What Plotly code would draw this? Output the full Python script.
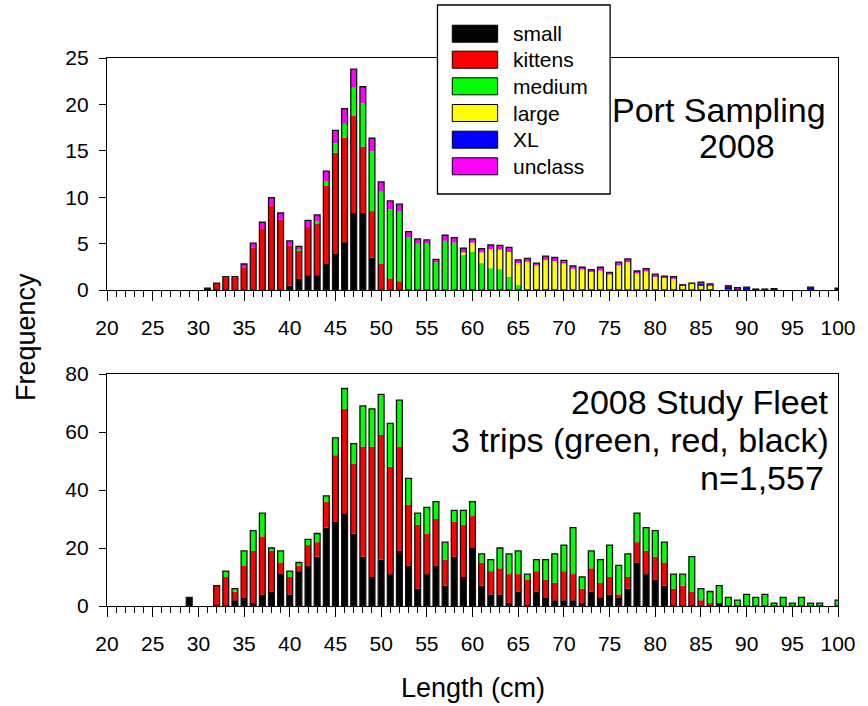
import plotly.graph_objects as go

# Fish length classes (cm)
LENGTHS = list(range(20, 101))

# ---- Port sampling 2008: frequency by market category (rows of 10: 20-29, 30-39, ... , 100)
top_small = [
    0, 0, 0, 0, 0, 0, 0, 0, 0, 0,
    0, 0.2, 0, 0, 0, 0, 0, 0, 0, 0,
    0.45, 1.2, 1.6, 1.6, 2.8, 3.95, 5.15, 8.3, 8.3, 3.5,
    0, 0.1, 0, 0.1, 0, 0, 0, 0, 0, 0,
    0, 0, 0, 0, 0, 0, 0, 0, 0, 0,
    0, 0, 0, 0, 0, 0, 0, 0, 0, 0,
    0, 0, 0, 0, 0, 0, 0, 0, 0, 0,
    0, 0, 0, 0, 0, 0, 0, 0, 0, 0,
    0,
]
top_kittens = [
    0, 0, 0, 0, 0, 0, 0, 0, 0, 0,
    0, 0, 0.65, 1.3, 1.3, 2.45, 4.6, 6.65, 9.1, 7.6,
    4.35, 3.1, 5.2, 5.6, 8.45, 10.85, 11.25, 10.45, 7.15, 5.0,
    2.8, 1.15, 0.95, 0, 0, 0, 0, 0, 0, 0,
    0, 0, 0, 0, 0, 0, 0, 0, 0, 0,
    0, 0, 0, 0, 0, 0, 0, 0, 0, 0,
    0, 0, 0, 0, 0, 0, 0, 0, 0, 0,
    0, 0, 0, 0, 0, 0, 0, 0, 0, 0,
    0,
]
top_medium = [
    0, 0, 0, 0, 0, 0, 0, 0, 0, 0,
    0, 0, 0, 0, 0, 0, 0, 0, 0, 0,
    0, 0.1, 0, 0.2, 0.45, 1.0, 1.5, 3.05, 4.65, 6.45,
    7.8, 7.45, 7.5, 5.6, 5.0, 5.0, 3.0, 5.3, 5.1, 3.8,
    4.1, 2.9, 2.35, 2.25, 1.4, 0.55, 0, 0.1, 0, 0,
    0, 0, 0, 0, 0, 0, 0, 0, 0, 0,
    0, 0, 0, 0, 0, 0, 0, 0, 0, 0,
    0, 0, 0, 0, 0, 0, 0, 0, 0, 0,
    0,
]
top_large = [
    0, 0, 0, 0, 0, 0, 0, 0, 0, 0,
    0, 0, 0, 0, 0, 0, 0, 0, 0, 0,
    0, 0, 0, 0, 0, 0, 0, 0, 0, 0,
    0, 0, 0, 0, 0, 0, 0, 0, 0, 0.25,
    1.0, 1.15, 2.05, 2.1, 2.7, 2.35, 3.05, 2.55, 3.25, 3.1,
    2.85, 2.3, 2.2, 2.0, 2.1, 1.65, 2.65, 3.0, 1.8, 2.0,
    1.5, 1.3, 1.2, 0.45, 0.65, 0.45, 0.5, 0, 0.15, 0,
    0, 0, 0, 0, 0, 0, 0, 0, 0, 0,
    0,
]
top_xl = [
    0, 0, 0, 0, 0, 0, 0, 0, 0, 0,
    0, 0, 0, 0, 0, 0, 0, 0, 0, 0,
    0, 0, 0, 0, 0, 0, 0, 0, 0, 0,
    0, 0, 0, 0, 0, 0, 0, 0, 0, 0,
    0, 0, 0, 0, 0, 0, 0, 0, 0, 0,
    0, 0, 0, 0, 0, 0, 0, 0, 0, 0,
    0, 0, 0, 0, 0, 0.25, 0, 0, 0.2, 0.15,
    0.3, 0.1, 0.1, 0.15, 0, 0, 0, 0.3, 0, 0,
    0.2,
]
top_unclass = [
    0, 0, 0, 0, 0, 0, 0, 0, 0, 0,
    0, 0, 0.1, 0.15, 0.15, 0.35, 0.45, 0.65, 0.85, 0.7,
    0.5, 0.3, 0.7, 0.7, 1.1, 1.4, 1.65, 2.0, 1.8, 1.4,
    1.05, 0.9, 0.8, 0.6, 0.5, 0.4, 0.3, 0.6, 0.55, 0.45,
    0.4, 0.4, 0.45, 0.45, 0.5, 0.35, 0.35, 0.25, 0.4, 0.4,
    0.35, 0.3, 0.25, 0.2, 0.35, 0.25, 0.35, 0.35, 0.25, 0.3,
    0.2, 0.2, 0.25, 0.1, 0.1, 0.15, 0.15, 0, 0.1, 0.1,
    0, 0, 0, 0, 0, 0, 0, 0, 0, 0,
    0,
]

# ---- 2008 Study Fleet: counts by trip class
bot_small = [
    0, 0, 0, 0, 0, 0, 0, 0, 0, 3,
    0, 0, 0, 0, 2, 3, 1, 4, 5, 11,
    4, 12, 14, 17, 27, 29, 32, 25, 17, 10,
    16, 11, 19, 14, 6, 11, 14, 7, 17, 10,
    20, 7, 4, 4, 1, 5, 0, 5, 3, 2,
    2, 2, 1, 5, 3, 4, 3, 6, 15, 11,
    9, 7, 0, 0, 0, 0, 0, 1, 0, 0,
    0, 0, 0, 0, 0, 0, 0, 0, 0, 0,
    0,
]
bot_kittens = [
    0, 0, 0, 0, 0, 0, 0, 0, 0, 0,
    0, 0, 7, 10, 3, 11, 18, 20, 14, 4,
    6, 2, 7, 5, 9, 23, 36, 24, 38, 45,
    43, 37, 36, 21, 22, 14, 16, 9, 12, 18,
    11, 8, 8, 9, 10, 6, 9, 7, 6, 6,
    10, 9, 5, 8, 5, 6, 1, 4, 7, 8,
    8, 8, 6, 7, 5, 2, 1, 0, 0, 0,
    0, 0, 0, 0, 0, 0, 0, 0, 0, 0,
    0,
]
bot_medium = [
    0, 0, 0, 0, 0, 0, 0, 0, 0, 0,
    0, 0, 0, 2, 1, 5, 7, 8, 1, 4,
    2, 1, 2, 3, 2, 6, 7, 7, 14, 13,
    14, 15, 16, 9, 4, 9, 6, 6, 4, 5,
    5, 3, 4, 7, 7, 8, 2, 4, 7, 10,
    9, 16, 4, 6, 8, 11, 10, 8, 10, 8,
    9, 7, 5, 4, 12, 4, 4, 6, 3, 2,
    4, 3, 4, 1, 3, 1, 3, 1, 1, 0,
    2,
]

CATEGORIES = ["small", "kittens", "medium", "large", "XL", "unclass"]
COLORS = ["#000000", "#FF0000", "#00FF00", "#FFFF00", "#0000FF", "#FF00FF"]

X_TICKS = list(range(20, 101, 5))
TOP_Y_TICKS = list(range(0, 26, 5))
BOT_Y_TICKS = list(range(0, 81, 20))

FONT = "Arial, Liberation Sans, sans-serif"
BAR_W = 0.64

# Figure geometry in pixels
W, H = 868, 706
L, R, T, B = 107, 848, 58, 606


def px(x):
    return (x - L) / (R - L)


def py(y):
    return (B - y) / (B - T)


fig = go.Figure()


def add_stack(series, colors, xaxis, yaxis):
    base = [0.0] * len(LENGTHS)
    for vals, col in zip(series, colors):
        fig.add_trace(go.Bar(
            x=LENGTHS, y=vals, base=list(base), width=BAR_W,
            marker=dict(color=col, line=dict(width=0)),
            xaxis=xaxis, yaxis=yaxis, showlegend=False, hoverinfo="skip",
        ))
        base = [b + v for b, v in zip(base, vals)]
    # outline around each whole stacked bar
    totals = [t if t > 0 else None for t in base]
    fig.add_trace(go.Bar(
        x=LENGTHS, y=totals, width=BAR_W,
        marker=dict(color="rgba(0,0,0,0)", line=dict(color="#111111", width=1.3)),
        xaxis=xaxis, yaxis=yaxis, showlegend=False, hoverinfo="skip",
    ))


add_stack([top_small, top_kittens, top_medium, top_large, top_xl, top_unclass],
          COLORS, "x2", "y2")
add_stack([bot_small, bot_kittens, bot_medium], COLORS[:3], "x", "y")

xaxis_style = dict(
    range=[20, 100], tickmode="array", tickvals=X_TICKS,
    ticks="outside", ticklen=10, tickwidth=1.3, tickcolor="black",
    minor=dict(dtick=1, tick0=20, ticks="outside", ticklen=6, tickwidth=1.1,
               tickcolor="black", showgrid=False),
    showline=True, linecolor="black", linewidth=1.3, mirror=True,
    showgrid=False, zeroline=False, ticklabelstandoff=9,
    tickfont=dict(family=FONT, size=21, color="black"),
)
yaxis_style = dict(
    ticks="outside", ticklen=7, tickwidth=1.3, tickcolor="black",
    showline=True, linecolor="black", linewidth=1.3, mirror=True,
    showgrid=False, zeroline=False, ticklabelstandoff=6,
    tickfont=dict(family=FONT, size=21, color="black"),
)

top_lo = py(290)
bot_hi = py(374)

fig.update_layout(
    width=W, height=H,
    margin=dict(l=L, r=W - R, t=T, b=H - B, pad=0),
    paper_bgcolor="white", plot_bgcolor="white",
    barmode="overlay",
    showlegend=False,
    xaxis=dict(domain=[0, 1], anchor="y", **xaxis_style),
    yaxis=dict(domain=[0, bot_hi], anchor="x", range=[0, 80],
               tickvals=BOT_Y_TICKS, **yaxis_style),
    xaxis2=dict(domain=[0, 1], anchor="y2", **xaxis_style),
    yaxis2=dict(domain=[top_lo, 1], anchor="x2", range=[0, 25],
                tickvals=TOP_Y_TICKS, **yaxis_style),
)

annotations = []


def text(x, y, s, size, xanchor="center", angle=0):
    annotations.append(dict(
        xref="paper", yref="paper", x=px(x), y=py(y), text=s,
        showarrow=False, xanchor=xanchor, yanchor="middle", textangle=angle,
        font=dict(family=FONT, size=size, color="black"),
    ))


# Axis titles
text(25, 337, "Frequency", 27, angle=-90)
text(478, 688, "Length (cm)", 27)

# Panel labels
text(838, 110, "Port Sampling", 34, xanchor="right")
text(746, 146, "2008", 34)
text(841, 402, "2008 Study Fleet", 34, xanchor="right")
text(841, 440, "3 trips (green, red, black)", 34, xanchor="right")
text(836, 478, "n=1,557", 34, xanchor="right")

# Legend box with colour swatches
shapes = [dict(
    type="rect", xref="paper", yref="paper", layer="above",
    x0=px(442), x1=px(617), y0=py(194), y1=py(5),
    line=dict(color="black", width=1.3), fillcolor="white",
)]
row_y = [33.7, 59.7, 86.3, 113.0, 139.7, 166.3]
for name, col, yc in zip(CATEGORIES, COLORS, row_y):
    shapes.append(dict(
        type="rect", xref="paper", yref="paper", layer="above",
        x0=px(457), x1=px(503), y0=py(yc + 8.5), y1=py(yc - 8.5),
        line=dict(color="black", width=1), fillcolor=col,
    ))
    text(517, yc, name, 21, xanchor="left")

fig.update_layout(shapes=shapes, annotations=annotations)

fig.write_html("out.html")
